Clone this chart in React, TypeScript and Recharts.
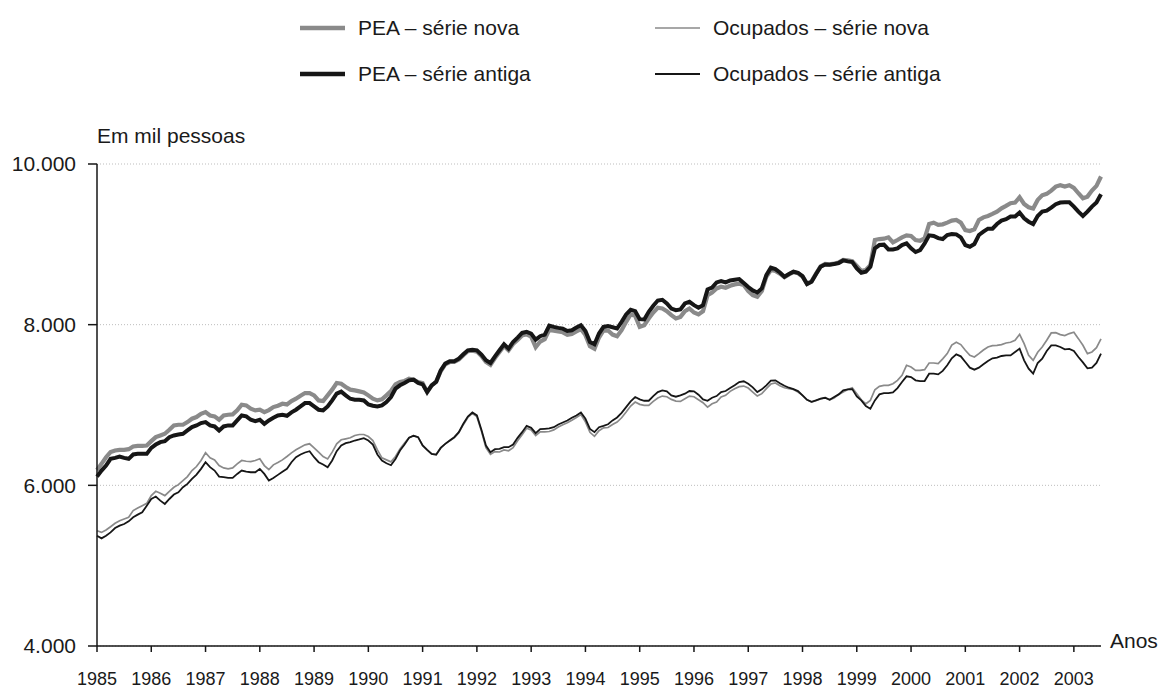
import React from "react";
import {
  LineChart,
  Line,
  XAxis,
  YAxis,
  CartesianGrid,
  Legend,
  Label,
} from "recharts";

// monthly series, Jan 1985 to Jul 2003, one row per year
const peaNova = [
  6192, 6267, 6350, 6413, 6434, 6442, 6442, 6450, 6484, 6492, 6492, 6496,
  6550, 6600, 6621, 6642, 6692, 6746, 6754, 6754, 6787, 6829, 6850, 6891,
  6912, 6870, 6858, 6816, 6870, 6879, 6883, 6933, 7003, 6995, 6954, 6933,
  6941, 6912, 6937, 6974, 6991, 7016, 7007, 7049, 7078, 7116, 7149, 7149,
  7120, 7057, 7049, 7120, 7191, 7274, 7265, 7224, 7191, 7182, 7170, 7157,
  7120, 7078, 7057, 7070, 7120, 7174, 7257, 7286, 7299, 7328, 7315, 7286,
  7274, 7161, 7245, 7290, 7420, 7505, 7535, 7535, 7565, 7620, 7670, 7675,
  7665, 7610, 7535, 7500, 7585, 7660, 7735, 7680, 7760, 7810, 7865, 7880,
  7850, 7720, 7790, 7820, 7935, 7925, 7915, 7905, 7875, 7885, 7915, 7945,
  7870, 7730, 7700, 7840, 7930, 7927, 7877, 7856, 7931, 8035, 8127, 8110,
  7973, 7993, 8077, 8151, 8210, 8201, 8168, 8118, 8077, 8097, 8168, 8201,
  8151, 8127, 8168, 8368, 8401, 8451, 8472, 8459, 8484, 8501, 8509, 8493,
  8418, 8368, 8347, 8418, 8597, 8680, 8670, 8635, 8590, 8625, 8655, 8640,
  8600, 8510, 8540, 8635, 8725, 8755, 8750, 8760, 8775, 8805, 8800, 8790,
  8730, 8670, 8680, 8740, 9054, 9066, 9070, 9087, 9025, 9054, 9087, 9112,
  9104, 9054, 9045, 9075, 9253, 9270, 9243, 9249, 9270, 9295, 9303, 9270,
  9178, 9166, 9187, 9303, 9336, 9353, 9378, 9407, 9449, 9478, 9511, 9520,
  9586, 9503, 9461, 9445, 9553, 9611, 9628, 9669, 9719, 9736, 9719, 9736,
  9703, 9636, 9574, 9594, 9669, 9728, 9844,
];

const peaAntiga = [
  6109, 6184, 6246, 6330, 6342, 6359, 6342, 6330, 6384, 6392, 6392, 6392,
  6467, 6508, 6538, 6550, 6600, 6621, 6633, 6642, 6683, 6725, 6746, 6775,
  6787, 6746, 6733, 6683, 6733, 6746, 6746, 6808, 6870, 6858, 6816, 6800,
  6816, 6766, 6808, 6841, 6870, 6878, 6866, 6908, 6941, 6982, 7024, 7024,
  6982, 6941, 6933, 6982, 7057, 7141, 7166, 7120, 7078, 7066, 7066, 7057,
  7007, 6991, 6982, 6995, 7037, 7099, 7203, 7245, 7274, 7307, 7315, 7274,
  7257, 7161, 7245, 7290, 7430, 7515, 7544, 7544, 7577, 7631, 7681, 7689,
  7681, 7627, 7556, 7523, 7606, 7681, 7756, 7702, 7785, 7839, 7897, 7910,
  7889, 7814, 7856, 7877, 7989, 7972, 7960, 7951, 7922, 7931, 7964, 7993,
  7922, 7785, 7756, 7889, 7972, 7983, 7968, 7952, 8035, 8127, 8185, 8168,
  8068, 8064, 8160, 8235, 8301, 8310, 8264, 8201, 8181, 8189, 8264, 8285,
  8243, 8210, 8243, 8439, 8463, 8526, 8543, 8526, 8551, 8559, 8567, 8518,
  8468, 8426, 8401, 8451, 8617, 8709, 8692, 8650, 8596, 8630, 8659, 8646,
  8604, 8505, 8534, 8630, 8721, 8750, 8746, 8754, 8767, 8800, 8788, 8779,
  8700, 8646, 8659, 8721, 8950, 8991, 8996, 8937, 8937, 8950, 8991, 9012,
  8950, 8904, 8929, 9012, 9112, 9104, 9077, 9066, 9116, 9129, 9124, 9087,
  8991, 8970, 9004, 9116, 9158, 9195, 9195, 9253, 9295, 9312, 9345, 9345,
  9395, 9324, 9282, 9253, 9353, 9407, 9420, 9457, 9499, 9520, 9524, 9524,
  9470, 9407, 9353, 9407, 9470, 9520, 9624,
];

const ocupNova = [
  5435, 5414, 5444, 5485, 5527, 5560, 5581, 5602, 5685, 5718, 5747, 5776,
  5872, 5926, 5901, 5872, 5926, 5976, 6009, 6059, 6109, 6184, 6234, 6309,
  6405, 6342, 6317, 6246, 6217, 6205, 6217, 6267, 6309, 6300, 6296, 6309,
  6330, 6246, 6195, 6255, 6284, 6317, 6359, 6404, 6442, 6475, 6504, 6517,
  6467, 6413, 6359, 6329, 6413, 6517, 6567, 6579, 6592, 6621, 6633, 6633,
  6608, 6558, 6442, 6342, 6317, 6292, 6359, 6454, 6525, 6592, 6617, 6600,
  6496, 6442, 6392, 6388, 6466, 6516, 6555, 6595, 6655, 6755, 6845, 6895,
  6855, 6675, 6470, 6385, 6420, 6415, 6440, 6430, 6470, 6555, 6630, 6710,
  6690, 6620, 6665, 6665, 6670, 6690, 6725, 6755, 6780, 6810, 6845, 6880,
  6790, 6660, 6610, 6680, 6715, 6720, 6758, 6787, 6841, 6912, 6987, 7037,
  7008, 6995, 6995, 7045, 7087, 7111, 7103, 7070, 7049, 7045, 7078, 7111,
  7103, 7066, 7028, 6974, 7016, 7037, 7099, 7120, 7170, 7203, 7228, 7236,
  7211, 7161, 7111, 7141, 7203, 7261, 7275, 7240, 7215, 7203, 7194, 7161,
  7119, 7065, 7036, 7057, 7074, 7090, 7065, 7086, 7132, 7161, 7194, 7215,
  7140, 7065, 7015, 7057, 7190, 7232, 7244, 7244, 7265, 7307, 7369, 7494,
  7473, 7431, 7431, 7440, 7523, 7523, 7515, 7575, 7640, 7745, 7781, 7752,
  7681, 7618, 7598, 7639, 7685, 7722, 7739, 7743, 7752, 7772, 7781, 7806,
  7880, 7764, 7618, 7556, 7656, 7722, 7806, 7897, 7901, 7876, 7864, 7889,
  7905, 7826, 7743, 7639, 7660, 7714, 7822,
];

const ocupAntiga = [
  5373, 5340, 5373, 5414, 5468, 5498, 5518, 5552, 5602, 5635, 5664, 5747,
  5830, 5860, 5810, 5768, 5830, 5885, 5914, 5976, 6018, 6080, 6134, 6205,
  6288, 6226, 6184, 6109, 6101, 6092, 6092, 6142, 6184, 6172, 6163, 6163,
  6205, 6142, 6059, 6090, 6130, 6170, 6205, 6288, 6350, 6384, 6409, 6425,
  6350, 6288, 6259, 6225, 6309, 6425, 6496, 6525, 6537, 6558, 6571, 6587,
  6558, 6508, 6384, 6309, 6275, 6250, 6329, 6433, 6508, 6592, 6617, 6600,
  6496, 6442, 6392, 6380, 6466, 6516, 6558, 6599, 6662, 6766, 6857, 6907,
  6870, 6691, 6495, 6412, 6450, 6454, 6475, 6475, 6508, 6591, 6662, 6741,
  6716, 6649, 6699, 6703, 6708, 6724, 6758, 6782, 6807, 6841, 6870, 6907,
  6828, 6703, 6662, 6724, 6741, 6760, 6808, 6845, 6903, 6974, 7045, 7099,
  7070, 7053, 7053, 7111, 7161, 7182, 7170, 7120, 7103, 7120, 7141, 7174,
  7170, 7128, 7070, 7053, 7091, 7111, 7161, 7174, 7211, 7245, 7286, 7295,
  7265, 7220, 7161, 7195, 7245, 7303, 7307, 7270, 7240, 7215, 7198, 7173,
  7119, 7065, 7040, 7057, 7078, 7090, 7065, 7099, 7132, 7182, 7194, 7198,
  7107, 7057, 6986, 6953, 7057, 7132, 7148, 7148, 7157, 7211, 7286, 7357,
  7348, 7307, 7298, 7298, 7390, 7390, 7381, 7425, 7494, 7581, 7631, 7606,
  7535, 7465, 7440, 7465, 7506, 7548, 7581, 7589, 7610, 7618, 7618, 7660,
  7702, 7556, 7452, 7390, 7523, 7577, 7673, 7743, 7743, 7722, 7693, 7698,
  7673, 7598, 7531, 7456, 7465, 7523, 7639,
];

const START_YEAR = 1985;
const yearTicks = [
  0, 12, 24, 36, 48, 60, 72, 84, 96, 108, 120, 132, 144, 156, 168, 180, 192,
  204, 216,
];
const valueTicks = [4000, 6000, 8000, 10000];

const FONT = "'Liberation Sans', Arial, Helvetica, sans-serif";
const GRAY = "#8a8a8a";
const BLACK = "#161616";

const data = peaNova.map((v, i) => ({
  m: i,
  peaNova: v,
  peaAntiga: peaAntiga[i],
  ocupNova: ocupNova[i],
  ocupAntiga: ocupAntiga[i],
}));

const fmtThousands = (v: number) =>
  String(v).replace(/\B(?=(\d{3})+(?!\d))/g, ".");

const legendItems = [
  { label: "PEA – série nova", color: GRAY, width: 4.5, x: 300, y: 28 },
  { label: "PEA – série antiga", color: BLACK, width: 4.5, x: 300, y: 74 },
  { label: "Ocupados – série nova", color: GRAY, width: 1.6, x: 655, y: 28 },
  { label: "Ocupados – série antiga", color: BLACK, width: 1.8, x: 655, y: 74 },
];

const renderLegend = () => (
  <svg width={1161} height={100} style={{ display: "block" }}>
    {legendItems.map((it) => (
      <g key={it.label}>
        <line
          x1={it.x}
          x2={it.x + 45}
          y1={it.y}
          y2={it.y}
          stroke={it.color}
          strokeWidth={it.width}
        />
        <text
          x={it.x + 58}
          y={it.y + 7}
          fontFamily={FONT}
          fontSize={21}
          fill="#1a1a1a"
        >
          {it.label}
        </text>
      </g>
    ))}
  </svg>
);

const App: React.FC = () => {
  return (
    <div style={{ position: "absolute", left: 0, top: 0, background: "#fff" }}>
      <LineChart
        width={1161}
        height={690}
        data={data}
        margin={{ top: 164, right: 60, bottom: 0, left: 0 }}
      >
        <CartesianGrid
          vertical={false}
          stroke="#bdbdbd"
          strokeDasharray="1 2"
        />
        <XAxis
          dataKey="m"
          type="number"
          domain={[0, 222]}
          ticks={yearTicks}
          tickFormatter={(m: number) => String(START_YEAR + m / 12)}
          height={44}
          tickSize={6}
          tickMargin={20}
          stroke={BLACK}
          strokeWidth={1.5}
          tick={{ fill: "#1a1a1a", fontSize: 18, fontFamily: FONT }}
          interval={0}
        >
          <Label
            content={({ viewBox }: any) => (
              <text
                x={viewBox.x + viewBox.width + 9}
                y={viewBox.y + 2}
                fontFamily={FONT}
                fontSize={21}
                fill="#1a1a1a"
              >
                Anos
              </text>
            )}
          />
        </XAxis>
        <YAxis
          type="number"
          domain={[4000, 10000]}
          ticks={valueTicks}
          tickFormatter={fmtThousands}
          width={97}
          tickSize={9}
          tickMargin={12}
          stroke={BLACK}
          strokeWidth={1.5}
          tick={{ fill: "#1a1a1a", fontSize: 21, fontFamily: FONT }}
          interval={0}
        >
          <Label
            content={({ viewBox }: any) => (
              <text
                x={viewBox.x + viewBox.width}
                y={viewBox.y - 21}
                fontFamily={FONT}
                fontSize={21}
                fill="#1a1a1a"
              >
                Em mil pessoas
              </text>
            )}
          />
        </YAxis>
        <Legend
          content={renderLegend}
          layout="horizontal"
          verticalAlign="middle"
          align="center"
          wrapperStyle={{ top: 0, left: 0, width: 1161, height: 100 }}
        />
        <Line
          dataKey="ocupNova"
          stroke={GRAY}
          strokeWidth={1.7}
          dot={false}
          activeDot={false}
          isAnimationActive={false}
        />
        <Line
          dataKey="ocupAntiga"
          stroke={BLACK}
          strokeWidth={1.8}
          dot={false}
          activeDot={false}
          isAnimationActive={false}
        />
        <Line
          dataKey="peaNova"
          stroke={GRAY}
          strokeWidth={4.2}
          dot={false}
          activeDot={false}
          isAnimationActive={false}
        />
        <Line
          dataKey="peaAntiga"
          stroke={BLACK}
          strokeWidth={4}
          dot={false}
          activeDot={false}
          isAnimationActive={false}
        />
      </LineChart>
    </div>
  );
};

export default App;
